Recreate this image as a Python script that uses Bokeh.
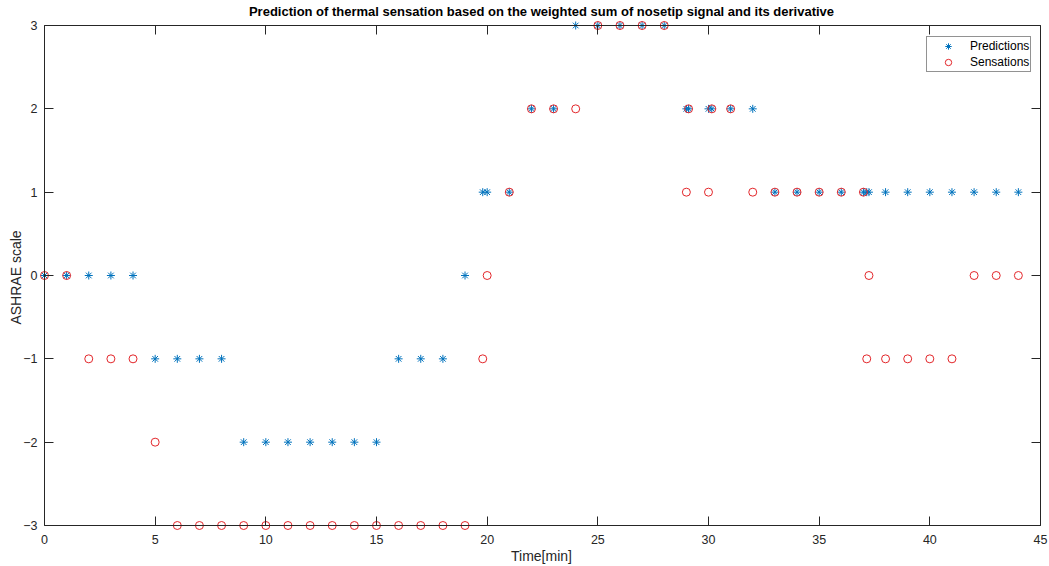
from bokeh.plotting import figure
from bokeh.models import (Range1d, LinearAxis, FixedTicker, Legend, LegendItem,
                          ColumnDataSource)
from bokeh.embed import file_html
from bokeh.resources import INLINE

# Sampling times (minutes) with predicted and reported thermal sensation
time_min = [0, 1, 2, 3, 4, 5, 6, 7, 8, 9, 10, 11, 12, 13, 14, 15, 16, 17, 18, 19,
            19.8, 20, 21, 22, 23, 24, 25, 26, 27, 28,
            29, 29.1, 30, 30.15, 31, 32, 33, 34, 35, 36, 37,
            37.15, 37.25, 38, 39, 40, 41, 42, 43, 44]
predictions = [0, 0, 0, 0, 0, -1, -1, -1, -1, -2, -2, -2, -2, -2, -2, -2, -1, -1, -1, 0,
               1, 1, 1, 2, 2, 3, 3, 3, 3, 3,
               2, 2, 2, 2, 2, 2, 1, 1, 1, 1, 1,
               1, 1, 1, 1, 1, 1, 1, 1, 1]
sensations = [0, 0, -1, -1, -1, -2, -3, -3, -3, -3, -3, -3, -3, -3, -3, -3, -3, -3, -3, -3,
              -1, 0, 1, 2, 2, 2, 3, 3, 3, 3,
              1, 2, 1, 2, 2, 1, 1, 1, 1, 1, 1,
              -1, 0, -1, -1, -1, -1, 0, 0, 0]

x_ticks = [0, 5, 10, 15, 20, 25, 30, 35, 40, 45]
y_ticks = [-3, -2, -1, 0, 1, 2, 3]
x_lim = (0, 45)
y_lim = (-3, 3)

title_text = ("Prediction of thermal sensation based on the weighted sum "
              "of nosetip signal and its derivative")

FONT = "Liberation Sans"
INK = "#262626"
BLUE = "#0072BD"
RED = "#e3262a"

src = ColumnDataSource(dict(t=time_min, pred=predictions, sens=sensations))

# a little room around the box so markers on its edges are drawn whole;
# the extra room below doubles as the gap before the tick labels
p = figure(width=1049, height=566, output_backend="svg", toolbar_location=None,
           x_range=Range1d(-0.271, 45.181), y_range=Range1d(-3.108, 3.06),
           x_axis_location=None, y_axis_location=None,
           min_border_left=38, min_border_right=5,
           min_border_top=20, min_border_bottom=32,
           background_fill_color="white", border_fill_color="white")
p.grid.visible = False
p.outline_line_color = None

p.title.text = title_text
p.title.align = "center"
p.title.vertical_align = "top"
p.title.text_font = FONT
p.title.text_font_size = "13px"
p.title.text_font_style = "bold"
p.title.text_color = "black"
p.title.text_line_height = 0.9
p.title.standoff = 0


def box_side(loc, bounds, ticks, side):
    """Box edge with inward ticks, pinned to the data limits."""
    ax = LinearAxis(fixed_location=loc, bounds=bounds,
                    ticker=FixedTicker(ticks=ticks),
                    major_tick_in=9, major_tick_out=0,
                    minor_tick_line_color=None,
                    axis_line_color=INK, major_tick_line_color=INK,
                    axis_line_width=1, major_tick_line_width=1,
                    major_label_text_color=None)
    p.add_layout(ax, side)


def label_axis(ticks, side, label, tick_standoff, label_standoff):
    """Tick labels and axis title, drawn in the side panel."""
    ax = LinearAxis(ticker=FixedTicker(ticks=ticks),
                    axis_line_color=None, major_tick_line_color=None,
                    minor_tick_line_color=None,
                    major_tick_in=0, major_tick_out=0,
                    major_label_standoff=tick_standoff,
                    major_label_text_font=FONT,
                    major_label_text_font_size="12.5px",
                    major_label_text_color=INK,
                    axis_label=label,
                    axis_label_text_font=FONT,
                    axis_label_text_font_size="14px",
                    axis_label_text_font_style="normal",
                    axis_label_text_color=INK,
                    axis_label_text_line_height=0.8,
                    axis_label_standoff=label_standoff)
    p.add_layout(ax, side)


label_axis(x_ticks, "below", "Time[min]", 0, 1)
label_axis(y_ticks, "left", "ASHRAE scale", 1, -4)

box_side(y_lim[0], x_lim, x_ticks, "below")
box_side(y_lim[1], x_lim, x_ticks, "above")
box_side(x_lim[0], y_lim, y_ticks, "left")
box_side(x_lim[1], y_lim, y_ticks, "right")

r_pred = p.scatter("t", "pred", source=src, marker="asterisk", size=8,
                   line_color=BLUE, line_width=1)
r_sens = p.scatter("t", "sens", source=src, marker="circle", size=8,
                   fill_color=None, line_color=RED, line_width=1)

legend = Legend(items=[LegendItem(label="Predictions", renderers=[r_pred]),
                       LegendItem(label="Sensations", renderers=[r_sens])],
                location=(888, 462), padding=1, margin=0, spacing=-1,
                glyph_width=40, glyph_height=16, label_height=16,
                label_standoff=2, label_text_font=FONT,
                label_text_font_size="12px", label_text_color="black",
                border_line_color=INK, border_line_width=1,
                background_fill_color="white", background_fill_alpha=1)
p.add_layout(legend)

open("out.html", "w").write(file_html(p, INLINE))
